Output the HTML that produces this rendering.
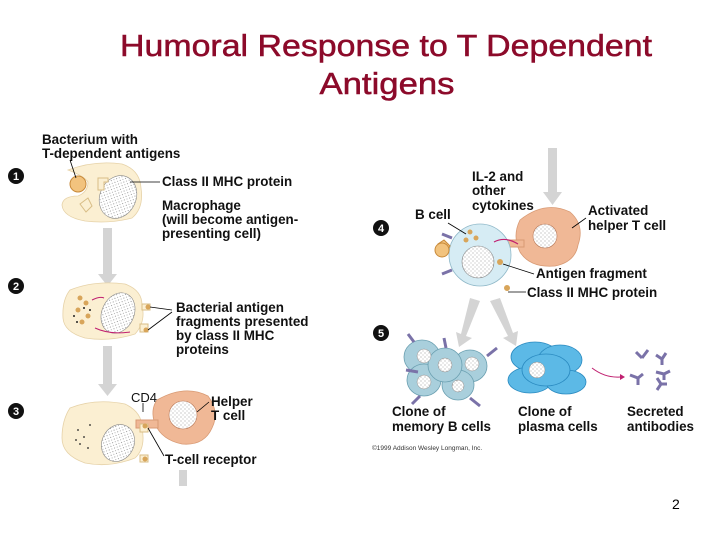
<!DOCTYPE html>
<html><head><meta charset="utf-8"><style>
html,body{margin:0;padding:0;background:#fff;}
svg{display:block;}
.t{font-family:"Liberation Sans",Arial,sans-serif;font-size:13.4px;font-weight:bold;fill:#111;}
.n{font-family:"Liberation Sans",Arial,sans-serif;font-size:11px;font-weight:bold;fill:#fff;}
</style></head><body>
<svg width="720" height="540" viewBox="0 0 720 540" xmlns="http://www.w3.org/2000/svg">
<defs>
<pattern id="dots" width="4" height="4" patternUnits="userSpaceOnUse"><rect width="4" height="4" fill="#fff"/><circle cx="1" cy="1" r="0.5" fill="#777"/><circle cx="3" cy="3" r="0.5" fill="#999"/></pattern>
</defs>
<text x="386" y="56" text-anchor="middle" font-family="Liberation Sans,Arial,sans-serif" font-size="31" fill="#8c0a2a" stroke="#8c0a2a" stroke-width="0.5" textLength="532" lengthAdjust="spacingAndGlyphs">Humoral Response to T Dependent</text>
<text x="387" y="94" text-anchor="middle" font-family="Liberation Sans,Arial,sans-serif" font-size="31" fill="#8c0a2a" stroke="#8c0a2a" stroke-width="0.5" textLength="135" lengthAdjust="spacingAndGlyphs">Antigens</text>

<!-- gray arrows -->
<g fill="#d4d4d4">
<rect x="103" y="228" width="9" height="48"/><polygon points="98,274 117,274 107.5,286"/>
<rect x="103" y="346" width="9" height="40"/><polygon points="98,384 117,384 107.5,396"/>
<rect x="179" y="470" width="8" height="16"/>
<rect x="548" y="148" width="9" height="46"/><polygon points="543,192 562,192 552.5,205"/>
<polygon points="470,298 480,301 466,336 472,338 459,347 456,332 461,334"/>
<polygon points="490,301 500,298 513,333 518,331 516,346 503,338 508,336"/>
</g>

<!-- numerals -->
<g>
<circle cx="16" cy="176" r="8" fill="#111"/><text class="n" x="16" y="180" text-anchor="middle">1</text>
<circle cx="16" cy="286" r="8" fill="#111"/><text class="n" x="16" y="290" text-anchor="middle">2</text>
<circle cx="16" cy="411" r="8" fill="#111"/><text class="n" x="16" y="415" text-anchor="middle">3</text>
<circle cx="381" cy="228" r="8" fill="#111"/><text class="n" x="381" y="232" text-anchor="middle">4</text>
<circle cx="381" cy="333" r="8" fill="#111"/><text class="n" x="381" y="337" text-anchor="middle">5</text>
</g>

<!-- macrophage 1 -->
<path d="M68,170 Q95,160 122,164 Q140,170 141,188 Q144,208 132,218 Q110,224 85,221 Q63,217 62,205 Q63,196 78,196 Q88,192 88,182 Q84,176 68,170Z" fill="#fbefd2" stroke="#e6d2a8" stroke-width="0.8"/>
<ellipse cx="118" cy="197" rx="18" ry="22" fill="url(#dots)" stroke="#888" stroke-width="0.6" transform="rotate(25 118 197)"/>
<path d="M98,178 h10 v4 h-4 v8 h-6z" fill="#fbefd2" stroke="#d8bd86"/>
<path d="M80,204 l8,-6 l4,8 l-6,6z" fill="#fbefd2" stroke="#d8bd86"/>
<circle cx="78" cy="184" r="8" fill="#f2c37e" stroke="#c88a3a"/>
<line x1="70" y1="160" x2="76" y2="178" stroke="#000" stroke-width="0.8"/>
<line x1="130" y1="182" x2="160" y2="182" stroke="#000" stroke-width="0.8"/>

<!-- macrophage 2 -->
<path d="M70,290 Q95,280 125,284 Q142,290 142,305 Q146,322 135,334 Q110,342 85,338 Q64,332 63,318 Q62,300 70,290Z" fill="#fbefd2" stroke="#e6d2a8" stroke-width="0.8"/>
<ellipse cx="118" cy="313" rx="16" ry="21" fill="url(#dots)" stroke="#888" stroke-width="0.6" transform="rotate(25 118 313)"/>
<g fill="#d8a55a"><circle cx="80" cy="298" r="2.5"/><circle cx="86" cy="303" r="2.5"/><circle cx="78" cy="310" r="2.5"/><circle cx="88" cy="316" r="2.5"/><circle cx="82" cy="322" r="2.5"/></g>
<g fill="#222"><circle cx="74" cy="316" r="1"/><circle cx="77" cy="322" r="1"/><circle cx="84" cy="308" r="1"/><circle cx="90" cy="310" r="1"/></g>
<path d="M92,300 Q100,296 104,298 M95,328 Q110,335 130,332" stroke="#c02070" fill="none" stroke-width="1"/>
<path d="M142,304 h8 v6 h-8z M140,324 h8 v8 h-8z" fill="#fbefd2" stroke="#d8bd86"/>
<circle cx="148" cy="307" r="2.5" fill="#d8a55a"/><circle cx="146" cy="330" r="2.5" fill="#d8a55a"/>
<line x1="150" y1="307" x2="172" y2="310" stroke="#000" stroke-width="0.8"/>
<line x1="148" y1="330" x2="172" y2="312" stroke="#000" stroke-width="0.8"/>

<!-- macrophage 3 + helper T -->
<path d="M70,408 Q95,398 125,404 Q142,412 142,428 Q146,448 135,458 Q110,468 85,463 Q62,455 62,438 Q62,420 70,408Z" fill="#fbefd2" stroke="#e6d2a8" stroke-width="0.8"/>
<ellipse cx="118" cy="443" rx="16" ry="19" fill="url(#dots)" stroke="#888" stroke-width="0.6" transform="rotate(25 118 443)"/>
<g fill="#222"><circle cx="78" cy="430" r="0.9"/><circle cx="84" cy="437" r="0.9"/><circle cx="90" cy="425" r="0.9"/><circle cx="80" cy="444" r="0.9"/><circle cx="88" cy="448" r="0.9"/><circle cx="76" cy="440" r="0.9"/></g>
<path d="M157,400 Q185,384 208,396 Q220,412 212,428 Q204,446 182,444 Q162,440 155,424 Q150,410 157,400Z" fill="#f0b896" stroke="#d89a74" stroke-width="0.8"/>
<circle cx="183" cy="415" r="14" fill="url(#dots)" stroke="#b87a5a" stroke-width="0.6"/>
<rect x="136" y="420" width="22" height="8" fill="#f0b896" stroke="#d89a74"/>
<path d="M140,424 h8 v8 h-8z" fill="#fbefd2" stroke="#d8bd86"/>
<circle cx="145" cy="426" r="2.5" fill="#d8a55a"/>
<path d="M140,455 h8 v7 h-8z" fill="#fbefd2" stroke="#d8bd86"/><circle cx="145" cy="459" r="2.5" fill="#d8a55a"/>
<line x1="143" y1="403" x2="143" y2="412" stroke="#000" stroke-width="0.8"/>
<line x1="209" y1="402" x2="197" y2="412" stroke="#000" stroke-width="0.8"/>
<line x1="148" y1="428" x2="164" y2="456" stroke="#000" stroke-width="0.8"/>

<!-- step 4 -->
<path d="M520,220 Q545,200 570,212 Q585,225 578,245 Q575,262 555,266 Q530,268 520,252 Q512,236 520,220Z" fill="#f0b896" stroke="#d89a74" stroke-width="0.8"/>
<circle cx="545" cy="236" r="12" fill="url(#dots)" stroke="#b87a5a" stroke-width="0.6"/>
<rect x="506" y="240" width="18" height="7" fill="#f0b896" stroke="#d89a74"/>
<circle cx="480" cy="255" r="31" fill="#d6ecf4" stroke="#8fb8c8" stroke-width="0.8"/>
<circle cx="478" cy="262" r="16" fill="url(#dots)" stroke="#888" stroke-width="0.6"/>
<g fill="#d8a55a"><circle cx="470" cy="232" r="2.5"/><circle cx="476" cy="238" r="2.5"/><circle cx="466" cy="240" r="2.5"/></g>
<path d="M518,244 Q505,236 494,242" stroke="#c02070" fill="none" stroke-width="1.2"/>
<path d="M444,240 l6,6 l-4,6 l-6,-2 l-2,-6z" fill="#f2c37e" stroke="#c88a3a"/>
<circle cx="442" cy="250" r="7" fill="#f2c37e" stroke="#c88a3a"/>
<g stroke="#7a72a8" stroke-width="3" fill="none"><path d="M452,238 l-10,-4 M452,270 l-10,4"/></g>
<circle cx="500" cy="262" r="3" fill="#d8a55a"/>
<circle cx="507" cy="288" r="3" fill="#d8a55a"/>
<line x1="448" y1="223" x2="466" y2="234" stroke="#000" stroke-width="0.8"/>
<line x1="586" y1="218" x2="572" y2="228" stroke="#000" stroke-width="0.8"/>
<line x1="503" y1="264" x2="534" y2="274" stroke="#000" stroke-width="0.8"/>
<line x1="508" y1="292" x2="526" y2="292" stroke="#000" stroke-width="0.8"/>

<!-- memory B cells -->
<g fill="#a9cfdc" stroke="#6a9fb0" stroke-width="0.8">
<ellipse cx="422" cy="357" rx="18" ry="17"/><ellipse cx="470" cy="366" rx="17" ry="16"/>
<ellipse cx="424" cy="380" rx="17" ry="16"/><ellipse cx="458" cy="385" rx="16" ry="15"/>
<ellipse cx="445" cy="365" rx="17" ry="17"/>
</g>
<g fill="url(#dots)" stroke="#888" stroke-width="0.5"><circle cx="424" cy="356" r="7"/><circle cx="472" cy="364" r="7"/><circle cx="424" cy="382" r="7"/><circle cx="445" cy="365" r="7"/><circle cx="458" cy="386" r="6"/></g>
<g stroke="#7a72a8" stroke-width="3" fill="none">
<path d="M414,342 l-6,-8 M418,372 l-12,-2 M446,348 l-2,-10 M487,356 l10,-8 M420,396 l-8,8 M470,398 l10,8"/>
</g>

<!-- plasma cells -->
<g fill="#5cb9e6" stroke="#2a8ac0" stroke-width="0.8">
<ellipse cx="535" cy="357" rx="24" ry="15"/><ellipse cx="560" cy="360" rx="22" ry="15"/>
<ellipse cx="530" cy="380" rx="22" ry="13"/><ellipse cx="566" cy="382" rx="20" ry="12"/>
<ellipse cx="546" cy="370" rx="24" ry="16"/>
</g>
<circle cx="537" cy="370" r="8" fill="url(#dots)" stroke="#888" stroke-width="0.5"/>
<path d="M592,368 Q605,378 620,377" stroke="#c02070" fill="none" stroke-width="1"/>
<polygon points="620,374 625,377 620,380" fill="#c02070"/>

<!-- antibodies -->
<g stroke="#7a72a8" stroke-width="3" fill="none">
<path d="M636,352 l6,6 M648,350 l-6,8"/>
<path d="M656,355 l6,4 l4,-6 M662,359 v6"/>
<path d="M630,375 l8,3 l5,-4 M638,378 l0,7"/>
<path d="M656,372 l8,2 l6,-3 M664,374 l0,6"/>
<path d="M657,390 l4,-6 l6,0 M661,384 l-4,-6"/>
</g>

<!-- labels -->
<text class="t" x="42" y="144">Bacterium with</text>
<text class="t" x="42" y="158">T-dependent antigens</text>
<text class="t" x="162" y="186">Class II MHC protein</text>
<text class="t" x="162" y="210">Macrophage</text>
<text class="t" x="162" y="224">(will become antigen-</text>
<text class="t" x="162" y="238">presenting cell)</text>
<text class="t" x="176" y="312">Bacterial antigen</text>
<text class="t" x="176" y="326">fragments presented</text>
<text class="t" x="176" y="340">by class II MHC</text>
<text class="t" x="176" y="354">proteins</text>
<text x="131" y="402" font-family="Liberation Sans,Arial,sans-serif" font-size="13" fill="#111">CD4</text>
<text class="t" x="211" y="406">Helper</text>
<text class="t" x="211" y="420">T cell</text>
<text class="t" x="165" y="464">T-cell receptor</text>
<text class="t" x="472" y="181">IL-2 and</text>
<text class="t" x="472" y="195">other</text>
<text class="t" x="472" y="210">cytokines</text>
<text class="t" x="415" y="219">B cell</text>
<text class="t" x="588" y="215">Activated</text>
<text class="t" x="588" y="230">helper T cell</text>
<text class="t" x="536" y="278">Antigen fragment</text>
<text class="t" x="527" y="297">Class II MHC protein</text>
<text class="t" x="392" y="416">Clone of</text>
<text class="t" x="392" y="431">memory B cells</text>
<text class="t" x="518" y="416">Clone of</text>
<text class="t" x="518" y="431">plasma cells</text>
<text class="t" x="627" y="416">Secreted</text>
<text class="t" x="627" y="431">antibodies</text>
<text x="372" y="450" font-family="Liberation Sans,Arial,sans-serif" font-size="6.5" fill="#333">©1999 Addison Wesley Longman, Inc.</text>
<text x="672" y="509" font-family="Liberation Sans,Arial,sans-serif" font-size="14" fill="#000">2</text>
</svg>
</body></html>
